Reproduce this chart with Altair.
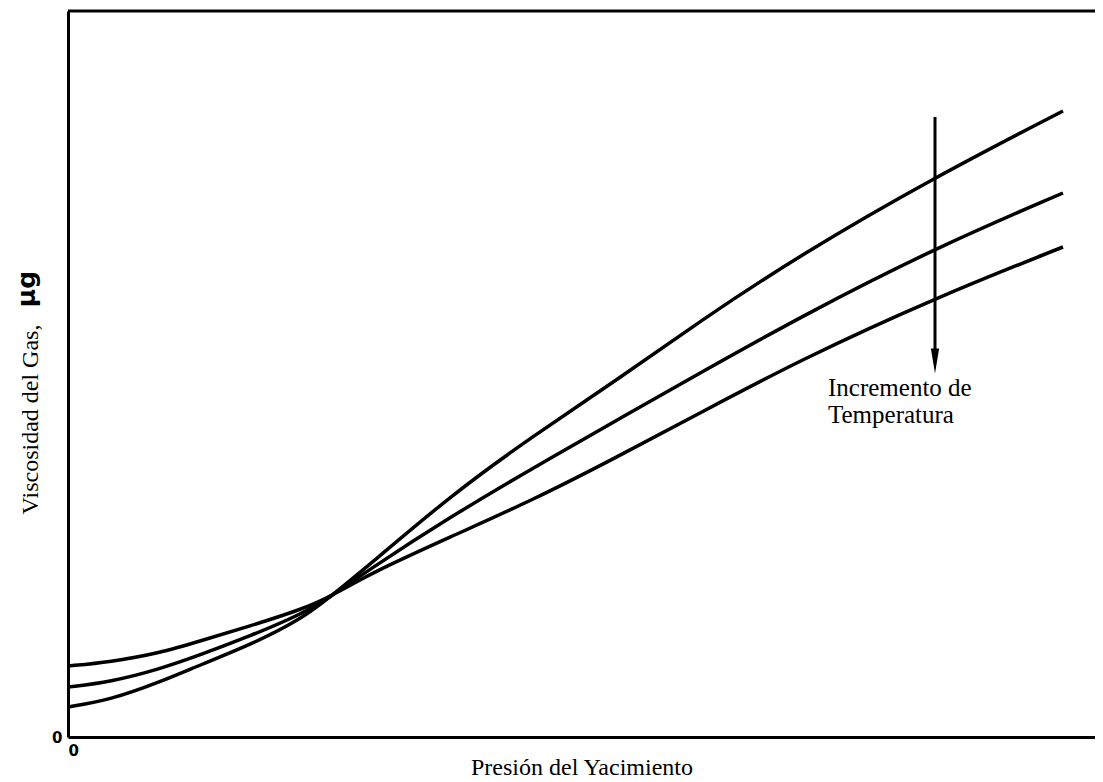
import altair as alt
import pandas as pd

# Reservoir pressure (arbitrary units)
pressure = [0, 42, 92, 132, 182, 232, 262, 299, 382, 465, 549, 632, 732, 867, 995]
# Gas viscosity for three temperatures (arbitrary units)
visc_low_t = [30, 37, 55, 72, 92, 117, 140, 170, 241, 301, 357, 416, 482, 560, 626]
visc_mid_t = [50, 55, 68, 82, 101, 122, 140, 166, 220, 269, 317, 364, 420, 489, 544]
visc_high_t = [71, 75, 84, 96, 111, 127, 140, 162, 200, 237, 280, 324, 377, 439, 490]
series_names = ["T1", "T2", "T3"]

X_MAX = 1027
Y_MAX = 726

rows = []
for name, vals in zip(series_names, [visc_low_t, visc_mid_t, visc_high_t]):
    for p, v in zip(pressure, vals):
        rows.append({"p": p, "v": v, "serie": name})
df = pd.DataFrame(rows)

xs = alt.Scale(domain=[0, X_MAX], nice=False, zero=False)
ys = alt.Scale(domain=[0, Y_MAX], nice=False, zero=False)

lines = alt.Chart(df).mark_line(
    color="black", strokeWidth=3.5, interpolate="basis"
).encode(
    x=alt.X("p:Q", scale=xs, axis=alt.Axis(
        title="Presión del Yacimiento", values=[0], ticks=False,
        labelPadding=6, labelFont="DejaVu Sans", labelFontWeight="bold",
        labelFontSize=15, labelColor="black", grid=False,
        domainColor="black", domainWidth=3,
        titleFont="Liberation Serif", titleFontSize=24, titleFontWeight="normal",
        titleColor="black", titleY=37, titleBaseline="alphabetic",
    )),
    y=alt.Y("v:Q", scale=ys, axis=alt.Axis(
        title="Viscosidad del Gas,", values=[0], ticks=False,
        labelPadding=6, labelFont="DejaVu Sans", labelFontWeight="bold",
        labelFontSize=15, labelColor="black", grid=False,
        domainColor="black", domainWidth=3,
        titleFont="Liberation Serif", titleFontSize=24, titleFontWeight="normal",
        titleColor="black", titleX=-31, titleY=408, titleBaseline="alphabetic",
        titleAngle=270,
    )),
    detail="serie:N",
)

top_line = alt.Chart(pd.DataFrame({"a": [0]})).mark_rule(
    color="black", strokeWidth=3
).encode(
    x=alt.datum(0, scale=xs), x2=alt.datum(X_MAX), y=alt.datum(Y_MAX, scale=ys)
)

arrow_x = 867
arrow_shaft = alt.Chart(pd.DataFrame({"a": [0]})).mark_rule(
    color="black", strokeWidth=3
).encode(
    x=alt.datum(arrow_x, scale=xs), y=alt.datum(620, scale=ys), y2=alt.datum(385)
)
arrow_head = alt.Chart(pd.DataFrame({"a": [0]})).mark_point(
    shape="M -0.33 -1 L 0.33 -1 L 0 1 Z", size=625, filled=True,
    color="black", opacity=1
).encode(
    x=alt.datum(arrow_x, scale=xs), y=alt.datum(376, scale=ys)
)

annot = alt.Chart(pd.DataFrame({"t": ["Incremento de", "Temperatura"],
                                "yy": [341, 314]})).mark_text(
    align="left", baseline="alphabetic", font="Liberation Serif",
    fontSize=25, color="black"
).encode(
    x=alt.datum(760, scale=xs), y=alt.Y("yy:Q", scale=ys), text="t:N"
)

mu = alt.Chart(pd.DataFrame({"a": [0]})).mark_text(
    text="μg", angle=270, font="DejaVu Sans", fontWeight="bold", fontSize=25,
    color="black", baseline="alphabetic", align="center"
).encode(x=alt.value(-33), y=alt.value(278))

chart = alt.layer(lines, top_line, arrow_shaft, arrow_head, annot, mu).properties(
    width=X_MAX, height=Y_MAX,
    padding={"left": 60, "top": 3, "right": 0, "bottom": 45},
    autosize=alt.AutoSizeParams(type="none"),
    background="white",
).configure_view(stroke=None)

chart.save("out.html", embed_options={"renderer": "svg", "actions": False})
